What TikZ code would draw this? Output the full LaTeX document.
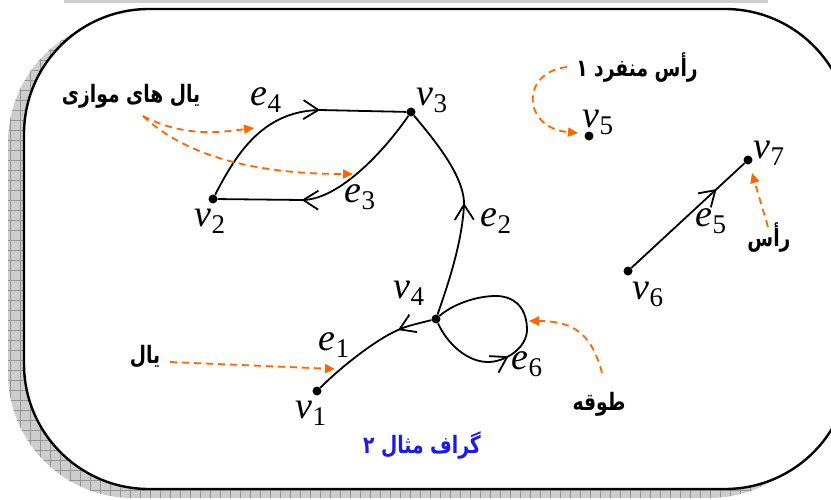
\documentclass[tikz,border=0pt]{standalone}
\usepackage{fontspec}
\usepackage{tikz}
\usetikzlibrary{arrows.meta,decorations.markings}
\newfontfamily\lblfont{Liberation Serif}
\newfontfamily\fafont[Script=Arabic,FakeStretch=0.78]{DejaVu Sans}
\TeXXeTstate=1
\definecolor{noteorange}{HTML}{FF6600}
\definecolor{titleblue}{HTML}{1A1AF0}
\definecolor{shadegray}{HTML}{CDCDCD}
\definecolor{shadeline}{HTML}{959595}
\newcommand{\gname}[2]{{\lblfont\fontsize{38}{38}\selectfont\itshape #1}{\lblfont\fontsize{27}{27}\selectfont\raisebox{-7pt}{#2}}}
\tikzset{
  frame/.style={draw=black,fill=white,line width=2.4pt,rounded corners=125pt},
  vdot/.style={circle,fill=black,inner sep=0pt,minimum size=9pt},
  glabel/.style={inner sep=0pt},
  fatext/.style={inner sep=0pt,font=\fafont\bfseries\fontsize{24}{28}\selectfont},
  edge/.style={line width=1.8pt},
  midarrow/.style={postaction={decorate,decoration={markings,mark=at position #1 with {\arrow{Straight Barb[length=15pt,width=19pt]}}}}},
  note/.style={noteorange,line width=1.8pt,dash pattern=on 7pt off 5pt,-{Triangle[length=10pt,width=9pt]}},
}

\begin{document}
\begin{tikzpicture}[x=1pt,y=-1pt]
\useasboundingbox (0,0) rectangle (831,499);
\clip (0,0) rectangle (831,499);
\fill[shadegray] (64,-6) rectangle (768,2.5);
\begin{scope}
  \clip[rounded corners=125pt] (8,18) rectangle (834,498);
  \fill[shadegray] (0,0) rectangle (840,510);
  \draw[shadeline,line width=.6pt,step=10pt] (0,0) grid (840,510);
\end{scope}
\draw[frame] (24,9) rectangle (850,489);

\node[vdot] (v1) at (317,391) {};
\node[vdot] (v2) at (213,199) {};
\node[vdot] (v3) at (411,112) {};
\node[vdot] (v4) at (436,319) {};
\node[vdot] (v5) at (589,136) {};
\node[vdot] (v6) at (628,271) {};
\node[vdot] (v7) at (748,160) {};

\node[glabel] (lv1) at (311,413) {\gname{v}{1}};
\node[glabel] (lv2) at (210,221) {\gname{v}{2}};
\node[glabel] (lv3) at (432,100) {\gname{v}{3}};
\node[glabel] (lv4) at (409,293) {\gname{v}{4}};
\node[glabel] (lv5) at (598,122) {\gname{v}{5}};
\node[glabel] (lv6) at (648,294) {\gname{v}{6}};
\node[glabel] (lv7) at (769,153) {\gname{v}{7}};
\node[glabel] (le1) at (334,345) {\gname{e}{1}};
\node[glabel] (le2) at (496,221) {\gname{e}{2}};
\node[glabel] (le3) at (360,197) {\gname{e}{3}};
\node[glabel] (le4) at (266,100) {\gname{e}{4}};
\node[glabel] (le5) at (711,221) {\gname{e}{5}};
\node[glabel] (le6) at (527,364) {\gname{e}{6}};

\draw[edge,midarrow=143pt] (v2) .. controls (238,150) and (265,111) .. (320,110) -- (v3);
\draw[edge,midarrow=140pt] (v3) .. controls (385,150) and (340,199) .. (303,200) -- (v2);
\draw[edge,midarrow=115pt] (v4) .. controls (446,290) and (462,245) .. (464,205) .. controls (465,175) and (430,135) .. (v3);
\draw[edge,midarrow=35pt] (v4) .. controls (420,323) and (406,326) .. (398,330) .. controls (375,340) and (340,368) .. (v1);
\draw[edge,midarrow=116pt] (v6) -- (v7);
\draw[edge,midarrow=88pt] (v4) .. controls (448,345) and (468,362) .. (488,362) .. controls (505,362) and (528,348) .. (527,328) .. controls (526,305) and (512,296) .. (496,296) .. controls (475,296) and (452,305) .. (v4);

\node[fatext] (par) at (131,96) {\beginR یال های موازی\endR};
\node[fatext] (iso) at (637,68) {\beginR رأس منفرد ۱\endR};
\node[fatext] (ras) at (769,238) {\beginR رأس\endR};
\node[fatext] (yal) at (145,357) {\beginR یال\endR};
\node[fatext] (tavq) at (599,404) {\beginR طوقه\endR};
\node[fatext,text=titleblue] (title) at (422,446) {\beginR گراف مثال ۲\endR};

\coordinate (pars) at (143,116);
\coordinate (t4) at (254,128);
\coordinate (t3) at (353,174);
\coordinate (isos) at (567,67);
\coordinate (isot) at (578,133);
\coordinate (rass) at (768,227);
\coordinate (rast) at (752,173);
\coordinate (yals) at (170,362);
\coordinate (yalt) at (335,369);
\coordinate (tavs) at (602,373);
\coordinate (tavt) at (529,321);
\draw[note] (pars) .. controls (185,138) and (222,132) .. (t4);
\draw[note] (pars) .. controls (190,160) and (265,174) .. (t3);
\draw[note] (isos) .. controls (520,72) and (522,128) .. (isot);
\draw[note] (rass) -- (rast);
\draw[note] (yals) -- (yalt);
\draw[note] (tavs) .. controls (592,335) and (575,321) .. (tavt);
\end{tikzpicture}
\end{document}
